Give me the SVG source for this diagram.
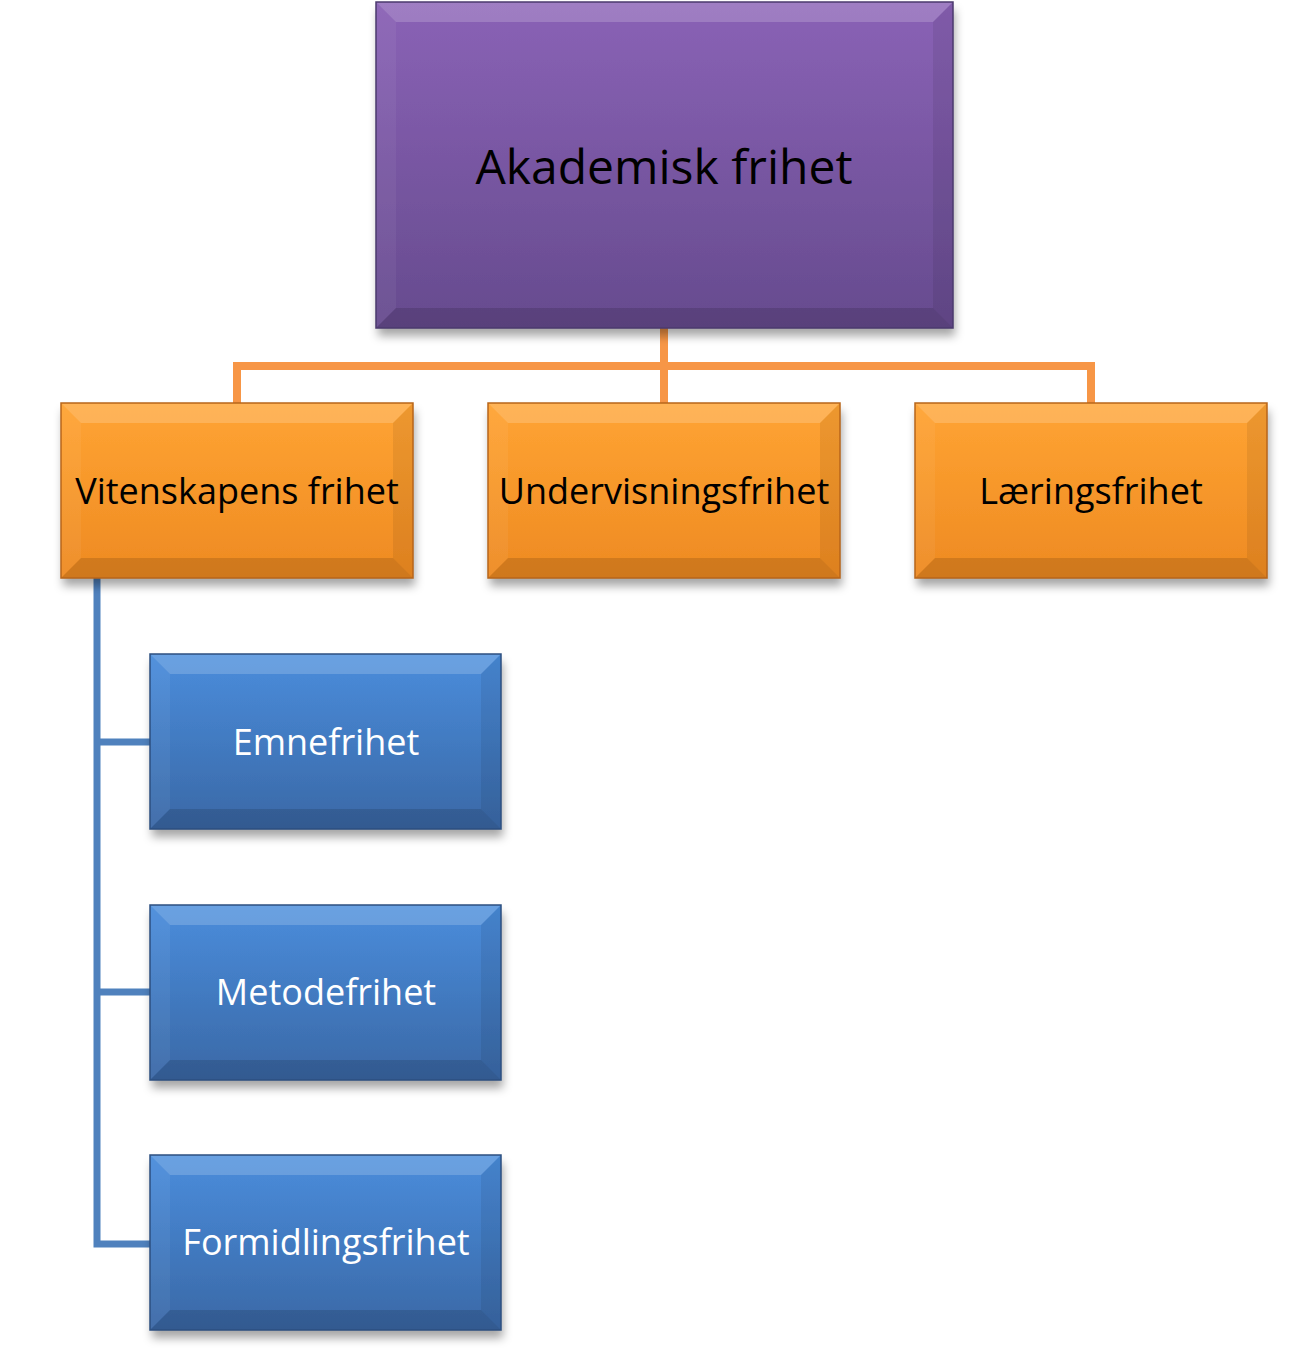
<svg xmlns="http://www.w3.org/2000/svg" width="1315" height="1356" viewBox="0 0 1315 1356">
<style>
.t{font-family:"Open Sans","Noto Sans","Liberation Sans",sans-serif;text-anchor:middle;dominant-baseline:central}
.bt{fill:#ffffff;opacity:0.18}
.bl{fill:#ffffff;opacity:0.05}
.br{fill:#000000;opacity:0.07}
.bb{fill:#000000;opacity:0.13}
</style>
<defs>
<linearGradient id="gp" x1="0" y1="0" x2="0" y2="1"><stop offset="0" stop-color="#8a62b6"/><stop offset="1" stop-color="#664b8e"/></linearGradient>
<linearGradient id="go" x1="0" y1="0" x2="0" y2="1"><stop offset="0" stop-color="#ffa433"/><stop offset="1" stop-color="#ee8a22"/></linearGradient>
<linearGradient id="gb" x1="0" y1="0" x2="0" y2="1"><stop offset="0" stop-color="#4a8ddc"/><stop offset="1" stop-color="#3a68a6"/></linearGradient>
<filter id="sh" x="-10%" y="-10%" width="125%" height="135%"><feDropShadow dx="2" dy="8" stdDeviation="5" flood-color="#000" flood-opacity="0.35"/></filter>
</defs>
<g id="connectors" fill="none" stroke-linejoin="miter">
<path d="M664 328 V366 M237 403 V366 H1091 V403 M664 366 V403" stroke="#f79646" stroke-width="8"/>
<path d="M97 578 V1244 H150 M97 742 H150 M97 992 H150" stroke="#4f81bd" stroke-width="7"/>
</g>
<g id="n_akademisk">
<rect x="376" y="2" width="577" height="326" fill="url(#gp)" filter="url(#sh)"/>
<polygon class="bt" points="376,2 953,2 933,22 396,22"/>
<polygon class="bl" points="376,2 396,22 396,308 376,328"/>
<polygon class="br" points="953,2 953,328 933,308 933,22"/>
<polygon class="bb" points="376,328 953,328 933,308 396,308"/>
<rect x="376" y="2" width="577" height="326" fill="none" stroke="#4b3a6e" stroke-width="1.5"/>
<text class="t" x="664" y="165" font-size="48" fill="#000">Akademisk frihet</text>
</g>
<g id="n_vitenskap">
<rect x="61" y="403" width="352" height="175" fill="url(#go)" filter="url(#sh)"/>
<polygon class="bt" points="61,403 413,403 393,423 81,423"/>
<polygon class="bl" points="61,403 81,423 81,558 61,578"/>
<polygon class="br" points="413,403 413,578 393,558 393,423"/>
<polygon class="bb" points="61,578 413,578 393,558 81,558"/>
<rect x="61" y="403" width="352" height="175" fill="none" stroke="#b8651a" stroke-width="1.5"/>
<text class="t" x="237" y="490" font-size="36" fill="#000">Vitenskapens frihet</text>
</g>
<g id="n_undervisning">
<rect x="488" y="403" width="352" height="175" fill="url(#go)" filter="url(#sh)"/>
<polygon class="bt" points="488,403 840,403 820,423 508,423"/>
<polygon class="bl" points="488,403 508,423 508,558 488,578"/>
<polygon class="br" points="840,403 840,578 820,558 820,423"/>
<polygon class="bb" points="488,578 840,578 820,558 508,558"/>
<rect x="488" y="403" width="352" height="175" fill="none" stroke="#b8651a" stroke-width="1.5"/>
<text class="t" x="664" y="490" font-size="36" fill="#000">Undervisningsfrihet</text>
</g>
<g id="n_laering">
<rect x="915" y="403" width="352" height="175" fill="url(#go)" filter="url(#sh)"/>
<polygon class="bt" points="915,403 1267,403 1247,423 935,423"/>
<polygon class="bl" points="915,403 935,423 935,558 915,578"/>
<polygon class="br" points="1267,403 1267,578 1247,558 1247,423"/>
<polygon class="bb" points="915,578 1267,578 1247,558 935,558"/>
<rect x="915" y="403" width="352" height="175" fill="none" stroke="#b8651a" stroke-width="1.5"/>
<text class="t" x="1091" y="490" font-size="36" fill="#000">Læringsfrihet</text>
</g>
<g id="n_emne">
<rect x="150" y="654" width="351" height="175" fill="url(#gb)" filter="url(#sh)"/>
<polygon class="bt" points="150,654 501,654 481,674 170,674"/>
<polygon class="bl" points="150,654 170,674 170,809 150,829"/>
<polygon class="br" points="501,654 501,829 481,809 481,674"/>
<polygon class="bb" points="150,829 501,829 481,809 170,809"/>
<rect x="150" y="654" width="351" height="175" fill="none" stroke="#2c4f80" stroke-width="1.5"/>
<text class="t" x="326" y="741" font-size="36" fill="#fff">Emnefrihet</text>
</g>
<g id="n_metode">
<rect x="150" y="905" width="351" height="175" fill="url(#gb)" filter="url(#sh)"/>
<polygon class="bt" points="150,905 501,905 481,925 170,925"/>
<polygon class="bl" points="150,905 170,925 170,1060 150,1080"/>
<polygon class="br" points="501,905 501,1080 481,1060 481,925"/>
<polygon class="bb" points="150,1080 501,1080 481,1060 170,1060"/>
<rect x="150" y="905" width="351" height="175" fill="none" stroke="#2c4f80" stroke-width="1.5"/>
<text class="t" x="326" y="991" font-size="36" fill="#fff">Metodefrihet</text>
</g>
<g id="n_formidling">
<rect x="150" y="1155" width="351" height="175" fill="url(#gb)" filter="url(#sh)"/>
<polygon class="bt" points="150,1155 501,1155 481,1175 170,1175"/>
<polygon class="bl" points="150,1155 170,1175 170,1310 150,1330"/>
<polygon class="br" points="501,1155 501,1330 481,1310 481,1175"/>
<polygon class="bb" points="150,1330 501,1330 481,1310 170,1310"/>
<rect x="150" y="1155" width="351" height="175" fill="none" stroke="#2c4f80" stroke-width="1.5"/>
<text class="t" x="326" y="1241" font-size="36" fill="#fff">Formidlingsfrihet</text>
</g>
</svg>
